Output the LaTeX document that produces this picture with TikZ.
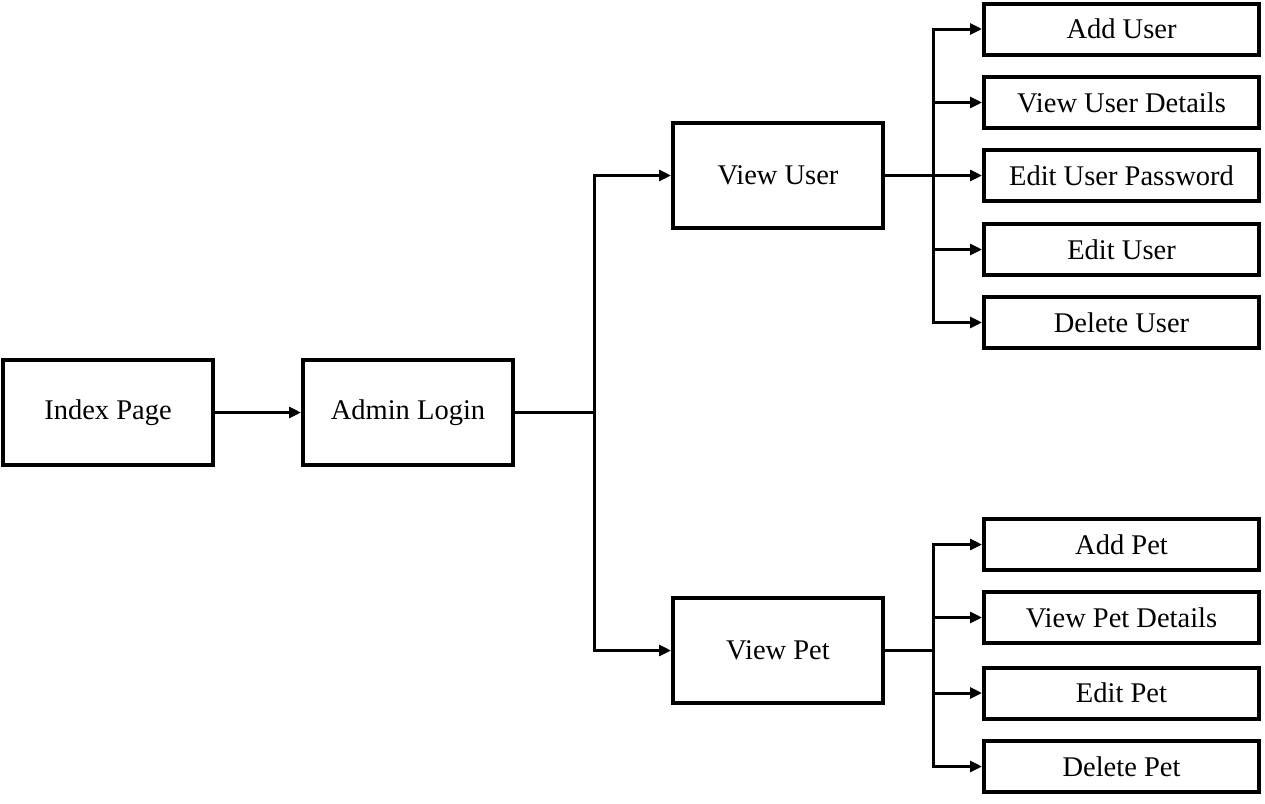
\documentclass[tikz,border=0pt]{standalone}
\usepackage{fontspec}
\setmainfont{Liberation Serif}
\usetikzlibrary{arrows.meta}
\begin{document}
\begin{tikzpicture}[x=1pt,y=-1pt,
  box/.style={draw,line width=4pt,rectangle,inner sep=0pt,font=\fontsize{28.5}{34}\selectfont},
  bigbox/.style={box,minimum width=210pt,minimum height=105pt},
  smallbox/.style={box,minimum width=275pt,minimum height=51pt},
  conn/.style={line width=3pt},
  arr/.style={conn,-{Triangle[length=12pt,width=11pt]}}]
\useasboundingbox (0,0) rectangle (1265,803);
\node[bigbox] (ip) at (108,412.5) {Index Page};
\node[bigbox] (al) at (408,412.5) {Admin Login};
\node[bigbox] (vu) at (778,175.5) {View User};
\node[bigbox] (vp) at (778,650.5) {View Pet};
\node[smallbox] (au) at (1121.5,29) {Add User};
\node[smallbox] (vud) at (1121.5,102.5) {View User Details};
\node[smallbox] (eup) at (1121.5,175.5) {Edit User Password};
\node[smallbox] (eu) at (1121.5,249.5) {Edit User};
\node[smallbox] (du) at (1121.5,322.5) {Delete User};
\node[smallbox] (ap) at (1121.5,544.5) {Add Pet};
\node[smallbox] (vpd) at (1121.5,617.5) {View Pet Details};
\node[smallbox] (ep) at (1121.5,693) {Edit Pet};
\node[smallbox] (dp) at (1121.5,766.5) {Delete Pet};
\coordinate (b1) at (594,412.5);
\coordinate (b2) at (933,175.5);
\coordinate (b3) at (933,650.5);
\draw[arr] (ip) -- (al);
\draw[conn] (al.east) -- (b1);
\draw[arr] (b1) |- (vu.west);
\draw[arr] (b1) |- (vp.west);
\draw[conn] (vu.east) -- (b2);
\foreach \t in {au,vud,eup,eu,du} \draw[arr] (b2) |- (\t.west);
\draw[conn] (vp.east) -- (b3);
\foreach \t in {ap,vpd,ep,dp} \draw[arr] (b3) |- (\t.west);
\end{tikzpicture}
\end{document}
